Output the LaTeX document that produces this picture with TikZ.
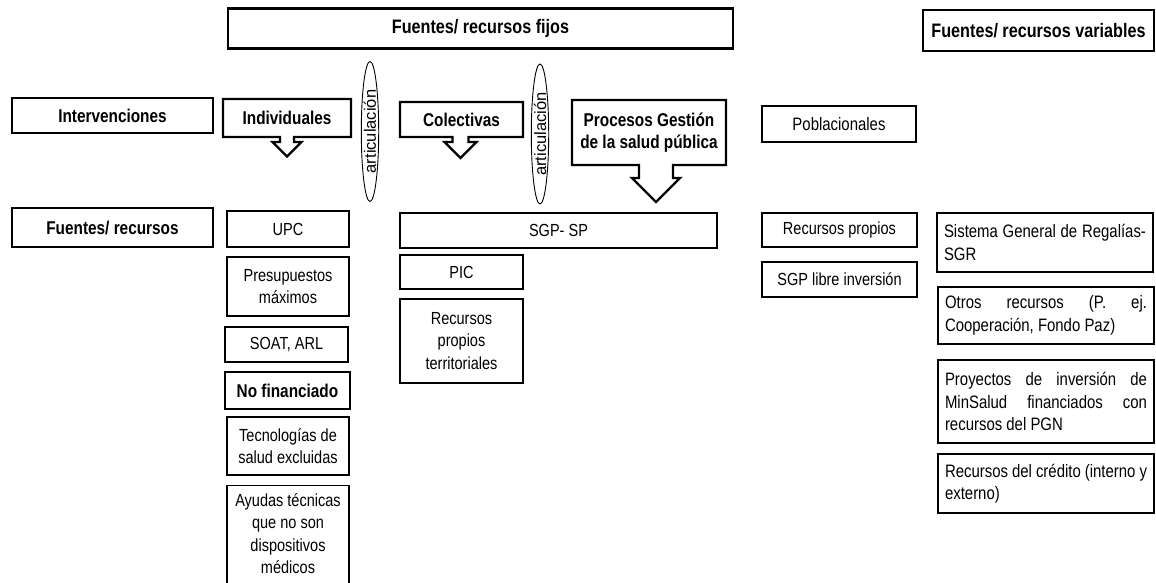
\documentclass[tikz,border=0pt]{standalone}
\usepackage{fontspec}
\setmainfont{Liberation Sans}[FakeStretch=0.83]
\newfontfamily\artfont{Liberation Sans}
\usetikzlibrary{shapes.geometric,calc}

\tikzset{
  headbox/.style={draw, line width=2.4pt, inner sep=0pt, align=center,
    font=\bfseries\fontsize{19.5}{23}\selectfont},
  boldbox/.style={draw, line width=2.4pt, inner sep=0pt, align=center,
    font=\bfseries\fontsize{18.5}{22.5}\selectfont},
  callbox/.style={boldbox, draw=none, outer sep=0pt},
  srcbox/.style={draw, line width=1.1pt, inner sep=0pt, align=center,
    font=\fontsize{17.5}{22.3}\selectfont},
  varbox/.style={draw, line width=1.1pt, inner xsep=7pt, inner ysep=0pt,
    text width=202pt, align=justify, font=\fontsize{18}{22.5}\selectfont},
  artic/.style={draw, ellipse, line width=0.9pt, rotate=90, inner sep=0pt,
    minimum width=140pt, minimum height=17pt,
    font=\artfont\fontsize{16.5}{16.5}\selectfont},
}

% box with a down arrow: node, x offset, shaft half, head half, shaft length
\newcommand{\downcallout}[5]{%
  \draw[line width=2.4pt, line join=miter]
    (#1.south west) -- (#1.north west) -- (#1.north east) -- (#1.south east)
    -- ($(#1.south)+(#2+#3,0)$) -- ($(#1.south)+(#2+#3,#5)$)
    -- ($(#1.south)+(#2+#4,#5)$) -- ($(#1.south)+(#2,#5+#4)$)
    -- ($(#1.south)+(#2-#4,#5)$) -- ($(#1.south)+(#2-#3,#5)$)
    -- ($(#1.south)+(#2-#3,0)$) -- cycle;}

\begin{document}
\begin{tikzpicture}[x=1pt, y=-1pt]
  \useasboundingbox[fill=white] (0,0) rectangle (1156,582);

  \node[headbox, minimum width=505pt, minimum height=40pt] (fijos) at (480.5,28.5) {Fuentes/ recursos fijos};
  \node[headbox, minimum width=231pt, minimum height=41pt] (variables) at (1038.5,30.5) {Fuentes/ recursos variables};

  \node[boldbox, minimum width=201pt, minimum height=35pt] (interv) at (112.5,115.5) {Intervenciones};
  \node[callbox, minimum width=128pt, minimum height=38pt] (indiv) at (287,118) {Individuales};
  \node[callbox, minimum width=123pt, minimum height=35pt] (colect) at (461.5,119.5) {Colectivas};
  \node[callbox, minimum width=154pt, minimum height=65pt] (procesos) at (649,132.5) {Procesos Gestión\\de la salud pública};
  \node[boldbox, font=\fontsize{18}{22}\selectfont, minimum width=154pt, minimum height=36pt] (pobl) at (839,124) {Poblacionales};

  \downcallout{indiv}{0}{7}{14.5}{5}
  \downcallout{colect}{-1}{8}{16}{5}
  \downcallout{procesos}{7}{17}{24}{13}

  \node[artic] (art1) at (370,131.5) {articulación};
  \node[artic] (art2) at (540,134) {articulación};

  \node[boldbox, line width=2.8pt, minimum width=201pt, minimum height=39pt] (fuentes) at (112.5,227.5) {Fuentes/ recursos};

  \node[srcbox, minimum width=122pt, minimum height=36pt] (upc) at (288,229) {UPC};
  \node[srcbox, minimum width=122pt, minimum height=59pt] (presup) at (288,286.5) {Presupuestos\\máximos};
  \node[srcbox, minimum width=123pt, minimum height=35pt] (soat) at (286.5,344.5) {SOAT, ARL};
  \node[boldbox, minimum width=125pt, minimum height=37pt] (nofin) at (287.5,390.5) {No financiado};
  \node[srcbox, minimum width=122pt, minimum height=58pt] (tecno) at (288,446) {Tecnologías de\\salud excluidas};
  \node[srcbox, anchor=north, minimum width=122pt, inner ysep=8pt] (ayudas) at (288,485) {Ayudas técnicas\\que no son\\dispositivos\\médicos\\\mbox{}};

  \node[srcbox, minimum width=317pt, minimum height=35pt] (sgpsp) at (558.5,230.5) {SGP- SP};
  \node[srcbox, minimum width=123pt, minimum height=34pt] (pic) at (461.5,272) {PIC};
  \node[srcbox, minimum width=123pt, minimum height=84pt] (terr) at (461.5,341) {Recursos\\propios\\territoriales};

  \node[srcbox, minimum width=155pt, minimum height=34pt] (propios) at (839.5,230) {Recursos propios};
  \node[srcbox, minimum width=155pt, minimum height=35pt] (libre) at (839.5,279.5) {SGP libre inversión};

  \node[varbox, minimum height=59pt] (sgr) at (1045,242.5) {Sistema General de Regalías-\linebreak SGR};
  \node[varbox, minimum height=57pt] (otros) at (1046,315.5) {Otros recursos (P. ej.\linebreak Cooperación, Fondo Paz)};
  \node[varbox, minimum height=83pt] (proy) at (1046,401.5) {Proyectos de inversión de\linebreak MinSalud financiados con\linebreak recursos del PGN};
  \node[varbox, minimum height=59pt] (credito) at (1046,483.5) {Recursos del crédito (interno y\linebreak externo)};
\end{tikzpicture}
\end{document}
